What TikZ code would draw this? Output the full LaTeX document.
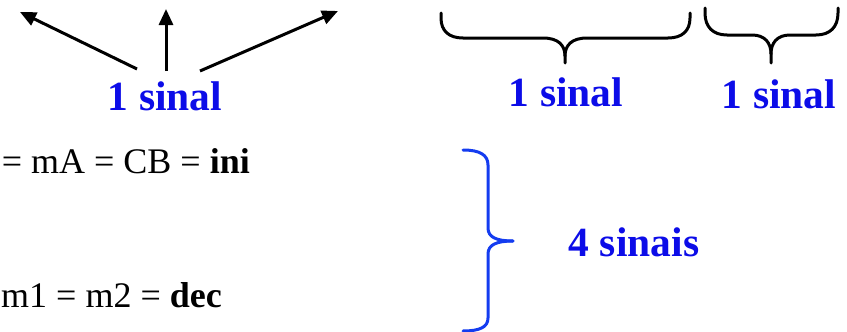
\documentclass[tikz,border=0pt]{standalone}
\usepackage{fontspec}
\setmainfont{Liberation Serif}
\usepackage{tikz}
\usetikzlibrary{arrows.meta}
\usetikzlibrary{positioning}
\definecolor{sigblue}{RGB}{12,12,232}
\definecolor{braceblue}{RGB}{20,60,240}
\tikzstyle{sigtext}=[text=sigblue,font=\fontsize{41.5}{44}\selectfont\bfseries,inner sep=0pt,anchor=base]
\tikzstyle{eqtext}=[font=\fontsize{36}{40}\selectfont,inner sep=0pt,anchor=base east]
\tikzstyle{sigarrow}=[-{Triangle[length=16pt,width=14pt]},line width=3pt]
\tikzstyle{bracepath}=[line width=3pt,line cap=round,line join=round]

\begin{document}
\begin{tikzpicture}[x=1pt,y=-1pt]
\tikzstyle{sigtext}=[text=sigblue,font=\fontsize{41.5}{44}\selectfont\bfseries,inner sep=0pt,anchor=base]
\useasboundingbox (0,0) rectangle (847,332);
    \node [sigtext] (sigA) at (165,110) {1 sinal};
    \node [sigtext] (sigB) at (566,106) {1 sinal};
    \node [sigtext] (sigC) at (779,108) {1 sinal};
    \node [sigtext] (quatro) at (634,256) {4 sinais};
    \node [eqtext] (eqini) at (250,173) {= mA = CB = \textbf{ini}};
    \node [eqtext] (eqdec) at (222,307) {m1 = m2 = \textbf{dec}};

\coordinate (tl) at (137,69);  \coordinate (hl) at (20,12);
\coordinate (tm) at (166,71);  \coordinate (hm) at (166,9);
\coordinate (tr) at (200,71);  \coordinate (hr) at (338,11);
\draw [sigarrow] (tl) -- (hl);
\draw [sigarrow] (tm) -- (hm);
\draw [sigarrow] (tr) -- (hr);

\draw [bracepath] (441,13) -- (441,18) .. controls (441,31) and (449,38) .. (463,38)
  -- (543,38) .. controls (558,38) and (565,45) .. (565,56) -- (565,63);
\draw [bracepath] (565,56) .. controls (565,45) and (572,38) .. (587,38)
  -- (668,38) .. controls (682,38) and (690,31) .. (690,18) -- (690,13);

\draw [bracepath] (705,8) -- (705,13) .. controls (705,27) and (713,35) .. (727,35)
  -- (752,35) .. controls (765,35) and (771,43) .. (771,54) -- (771,63);
\draw [bracepath] (771,54) .. controls (771,43) and (777,35) .. (790,35)
  -- (816,35) .. controls (830,35) and (838,27) .. (838,13) -- (838,8);

\draw [bracepath,braceblue] (463,150) .. controls (480,150) and (488,155) .. (488,165)
  -- (488,228) .. controls (488,237) and (496,241) .. (513,241);
\draw [bracepath,braceblue] (513,241) .. controls (496,241) and (488,245) .. (488,254)
  -- (488,318) .. controls (488,327) and (480,331) .. (463,331);
\end{tikzpicture}
\end{document}
